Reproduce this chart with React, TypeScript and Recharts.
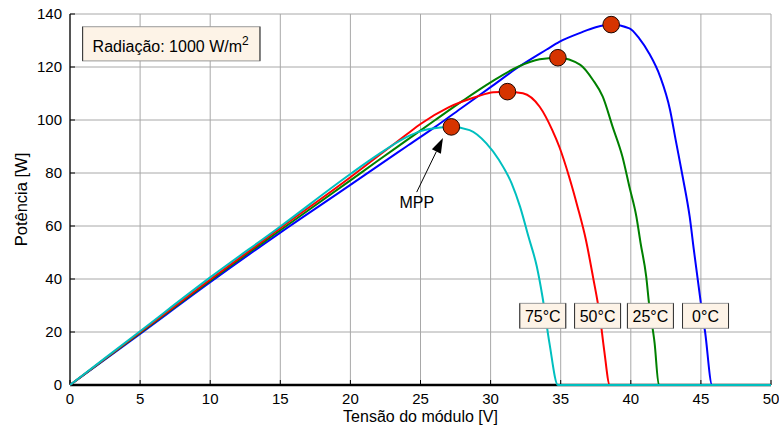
import React from 'react';
import {
  ComposedChart,
  Line,
  Scatter,
  XAxis,
  YAxis,
  CartesianGrid,
  ReferenceArea,
  ReferenceDot,
  ReferenceLine,
} from 'recharts';

// module voltage [V] / power [W]
const v0C = [0, 5, 10, 15, 20, 22, 24, 26, 28, 30, 32, 34, 34.9, 36.4, 37.5, 38.6, 39.9, 40.6, 41.3, 42.1, 42.8, 43.2, 43.7, 44.2, 44.5, 45.0, 45.3, 45.8, 50];
const p0C = [0, 19.3, 38.8, 57.5, 75.5, 82.8, 90, 97.2, 104.8, 112.4, 120, 126.6, 129.5, 132.9, 135, 136, 134.6, 130.8, 125.2, 116.3, 103.8, 92.5, 78.6, 63.5, 50.9, 30.8, 20, 0, 0];

const v25C = [0, 5, 10, 15, 20, 22, 24, 26, 28, 30, 32, 33.5, 34.8, 36.4, 37.3, 38.0, 38.7, 39.4, 39.9, 40.4, 40.7, 41.1, 41.3, 41.7, 42.0, 50];
const p25C = [0, 19.6, 39.4, 58.4, 77.2, 84.8, 92.3, 99.8, 107.2, 114.2, 120.2, 122.9, 123.5, 120.8, 115.1, 108.8, 97.5, 86.2, 74.8, 63.5, 53.5, 40.9, 30.8, 15.7, 0, 0];

const v50C = [0, 5, 10, 15, 20, 22, 24, 25, 27, 29, 30.2, 31.2, 32.3, 33.5, 34.4, 34.9, 35.6, 36.2, 36.8, 37.3, 37.8, 38.1, 38.5, 50];
const p50C = [0, 19.9, 39.8, 59.2, 78.4, 86.5, 94.5, 98.5, 104.8, 108.8, 110.5, 110.7, 110.1, 105, 96.2, 89.9, 78.6, 67.3, 54.7, 40.9, 25.8, 13.2, 0, 0];

const v75C = [0, 5, 10, 15, 20, 22, 24, 25, 26.4, 27.2, 28.5, 29.7, 30.6, 31.5, 32.1, 32.7, 33.3, 33.7, 34.2, 34.8, 50];
const p75C = [0, 20.3, 40.6, 59.8, 79.6, 87, 93.5, 95.8, 97.2, 97.4, 96.2, 91.2, 84.9, 76.1, 67.3, 56, 44.6, 33.3, 15.7, 0, 0];

// maximum power points
const mppV = [38.6, 34.8, 31.2, 27.2];
const mppP = [136, 123.5, 110.7, 97.4];

const tempLabels = ['0°C', '25°C', '50°C', '75°C'];
const xTicks = [0, 5, 10, 15, 20, 25, 30, 35, 40, 45, 50];
const yTicks = [0, 20, 40, 60, 80, 100, 120, 140];

const toPoints = (v: number[], p: number[]) => v.map((x, i) => ({ v: x, p: p[i] }));

const curves = [
  { name: tempLabels[0], data: toPoints(v0C, p0C), color: '#0000ff' },
  { name: tempLabels[1], data: toPoints(v25C, p25C), color: '#008000' },
  { name: tempLabels[2], data: toPoints(v50C, p50C), color: '#ff0000' },
  { name: tempLabels[3], data: toPoints(v75C, p75C), color: '#00bfbf' },
];
const mppPoints = toPoints(mppV, mppP);

const FONT = 'Arial, "Liberation Sans", sans-serif';
const BOX_FILL = '#fdf3e7';

const tempBox = (text: string) => (props: any) => {
  const { cx, cy } = props;
  const w = 46;
  const h = 25;
  const x = cx - w / 2;
  const y = cy - h / 2;
  return (
    <g>
      <rect x={x} y={y} width={w} height={h} fill={BOX_FILL} stroke="#999" strokeWidth={1} />
      <line x1={x} y1={y} x2={x} y2={y + h} stroke="#333" />
      <line x1={x + w} y1={y} x2={x + w} y2={y + h} stroke="#333" />
      <text x={cx} y={cy + 6} textAnchor="middle" fontSize={16} fontFamily={FONT} fill="#000">
        {text}
      </text>
    </g>
  );
};

const RadiationBox = (props: any) => {
  const { x, y, width, height } = props;
  return (
    <g>
      <rect x={x} y={y} width={width} height={height} fill={BOX_FILL} stroke="#999" strokeWidth={1} />
      <line x1={x} y1={y} x2={x} y2={y + height} stroke="#333" />
      <line x1={x + width} y1={y} x2={x + width} y2={y + height} stroke="#333" />
      <text x={x + 10} y={y + 25.6} fontSize={16} fontFamily={FONT} fill="#000">
        Radiação: 1000 W/m
        <tspan dy={-7} fontSize={12}>2</tspan>
      </text>
    </g>
  );
};

const MppArrow = (props: any) => {
  const { x1, y1, x2, y2 } = props;
  const ang = Math.atan2(y2 - y1, x2 - x1);
  const len = 15;
  const half = 5;
  const bx = x2 - len * Math.cos(ang);
  const by = y2 - len * Math.sin(ang);
  const nx = -Math.sin(ang) * half;
  const ny = Math.cos(ang) * half;
  return (
    <g>
      <line x1={x1} y1={y1} x2={bx} y2={by} stroke="#000" strokeWidth={1} />
      <polygon points={`${x2},${y2} ${bx + nx},${by + ny} ${bx - nx},${by - ny}`} fill="#000" />
      <text x={x1} y={y1 + 16} textAnchor="middle" fontSize={16} fontFamily={FONT} fill="#000">
        MPP
      </text>
    </g>
  );
};

const MppDot = (props: any) => (
  <circle cx={props.cx} cy={props.cy} r={8.3} fill="#d63400" stroke="#1a0500" strokeWidth={1} />
);

export default function App() {
  const tick = { fontSize: 15, fill: '#000', fontFamily: FONT };
  const inTick = { stroke: '#000', strokeWidth: 1 };
  return (
    <div style={{ position: 'absolute', left: 0, top: 0, width: 779, height: 432, background: '#fff', fontFamily: FONT }}>
      <ComposedChart width={779} height={432} margin={{ top: 14, right: 8, left: 0, bottom: 0 }}>
        <CartesianGrid stroke="#a8a8a8" strokeWidth={1} />
        <XAxis
          dataKey="v"
          type="number"
          domain={[0, 50]}
          ticks={xTicks}
          height={47}
          tick={tick}
          tickLine={inTick}
          tickSize={-5}
          tickMargin={13.5}
          axisLine={{ stroke: '#000', strokeWidth: 2.5 }}
          label={{
            content: (p: any) => (
              <text
                x={p.viewBox.x + p.viewBox.width / 2}
                y={p.viewBox.y + 37}
                textAnchor="middle"
                fontSize={16}
                fontFamily={FONT}
                fill="#000"
              >
                Tensão do módulo [V]
              </text>
            ),
          }}
        />
        <XAxis
          xAxisId="top"
          orientation="top"
          type="number"
          domain={[0, 50]}
          ticks={xTicks}
          height={0}
          tick={false}
          tickLine={inTick}
          tickSize={-5}
          axisLine={{ stroke: '#000', strokeWidth: 1.5 }}
        />
        <YAxis
          dataKey="p"
          type="number"
          domain={[0, 140]}
          ticks={yTicks}
          width={70}
          tick={tick}
          tickLine={inTick}
          tickSize={-5}
          tickMargin={13}
          axisLine={{ stroke: '#000', strokeWidth: 1.2 }}
          label={{
            content: (p: any) => {
              const cx = 27;
              const cy = p.viewBox.y + p.viewBox.height / 2;
              return (
                <text
                  x={cx}
                  y={cy}
                  transform={`rotate(-90, ${cx}, ${cy})`}
                  textAnchor="middle"
                  fontSize={16.5}
                  fontFamily={FONT}
                  fill="#000"
                >
                  Potência [W]
                </text>
              );
            },
          }}
        />
        <YAxis
          yAxisId="right"
          orientation="right"
          type="number"
          domain={[0, 140]}
          ticks={yTicks}
          width={0}
          tick={false}
          tickLine={inTick}
          tickSize={-5}
          axisLine={{ stroke: '#000', strokeWidth: 1 }}
        />

        {curves.map((c) => (
          <Line
            key={c.name}
            data={c.data}
            dataKey="p"
            type="monotoneX"
            stroke={c.color}
            strokeWidth={2}
            dot={false}
            activeDot={false}
            isAnimationActive={false}
            zIndex={550}
          />
        ))}
        <Scatter data={mppPoints} dataKey="p" shape={MppDot} isAnimationActive={false} zIndex={600} />

        <ReferenceArea x1={0.9} x2={13.55} y1={122.3} y2={135.2} shape={RadiationBox} ifOverflow="visible" zIndex={700} />
        <ReferenceLine
          segment={[
            { x: 24.73, y: 72.8 },
            { x: 26.6, y: 93.2 },
          ]}
          shape={MppArrow}
          ifOverflow="visible"
          zIndex={700}
        />
        <ReferenceDot x={33.72} y={26.1} r={1} shape={tempBox(tempLabels[3])} ifOverflow="visible" zIndex={700} />
        <ReferenceDot x={37.63} y={26.1} r={1} shape={tempBox(tempLabels[2])} ifOverflow="visible" zIndex={700} />
        <ReferenceDot x={41.4} y={26.1} r={1} shape={tempBox(tempLabels[1])} ifOverflow="visible" zIndex={700} />
        <ReferenceDot x={45.33} y={26.1} r={1} shape={tempBox(tempLabels[0])} ifOverflow="visible" zIndex={700} />
      </ComposedChart>
    </div>
  );
}
